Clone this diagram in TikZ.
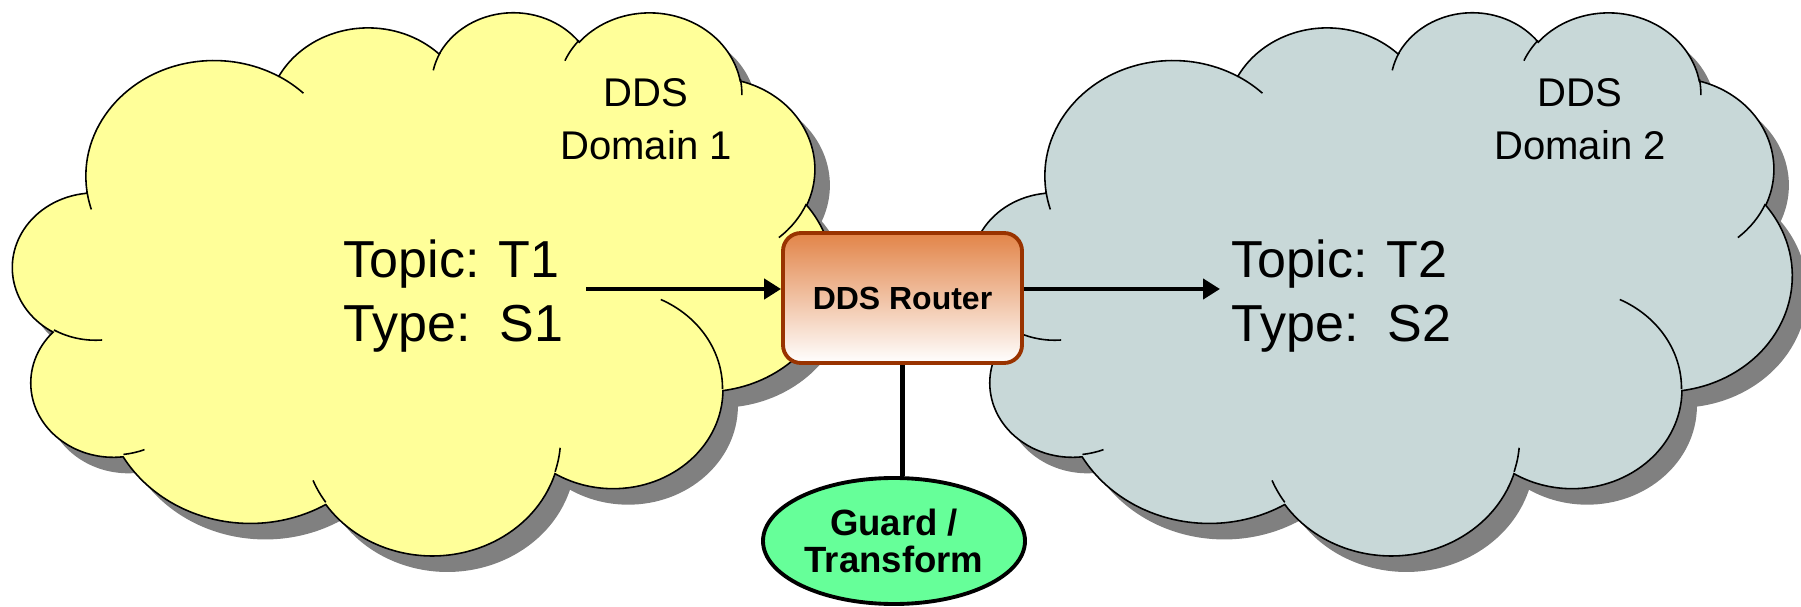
\documentclass[tikz,border=0pt]{standalone}
\usepackage{fontspec}
\setmainfont{Liberation Sans}
\usepackage{tikz}
\usetikzlibrary{shapes}
\usetikzlibrary{positioning}
\usetikzlibrary{arrows.meta}
\usepackage{xcolor}

\definecolor{cloudyellow}{RGB}{255,255,153}
\definecolor{cloudgrey}{RGB}{200,216,216}
\definecolor{routerline}{RGB}{153,51,0}
\definecolor{routertop}{RGB}{226,132,72}
\definecolor{guardgreen}{RGB}{102,255,153}

\tikzset{
  cloudline/.style={line width=.45pt},
  cloudshadow/.style={fill=black!50},
  routerbox/.style={draw=routerline,line width=1.1pt,rounded corners=.18cm,top color=routertop,bottom color=white,
    minimum width=2.39cm,minimum height=1.3cm,inner sep=0pt,font=\bfseries\fontsize{9.1}{10}\selectfont},
  guardbox/.style={ellipse,draw,line width=1.1pt,fill=guardgreen,minimum width=2.62cm,minimum height=1.26cm,
    inner sep=0pt,align=center,font=\bfseries\fontsize{10.4}{10.6}\selectfont},
  topiclabel/.style={align=left,inner sep=0pt,anchor=north west,font=\fontsize{14.8}{18.2}\selectfont},
  domainlabel/.style={align=center,inner sep=0pt,anchor=north,font=\fontsize{11.4}{15.1}\selectfont},
  flowarrow/.style={line width=1.35pt,-{Triangle[length=.17cm,width=.2cm]}},
  guardlink/.style={line width=1.2pt}
}

\def\cloudoutline{(3.900,14.370)
  arc[start angle=-187.75,delta angle=128.11,x radius=6.753,y radius=9.190]
  arc[start angle=-152.02,delta angle=106.57,x radius=5.333,y radius=7.267]
  arc[start angle=-153.49,delta angle=116.17,x radius=4.365,y radius=5.945]
  arc[start angle=-139.72,delta angle=129.51,x radius=4.857,y radius=6.595]
  arc[start angle=-74.77,delta angle=97.99,x radius=5.333,y radius=7.273]
  arc[start angle=-37.52,delta angle=119.38,x radius=6.775,y radius=9.220]
  arc[start angle=0.46,delta angle=121.52,x radius=5.785,y radius=7.867]
  arc[start angle=16.84,delta angle=129.39,x radius=6.752,y radius=9.215]
  arc[start angle=58.98,delta angle=91.22,x radius=7.720,y radius=10.543]
  arc[start angle=-276.69,delta angle=139.79,x radius=4.360,y radius=5.918]
  arc[start angle=-239.64,delta angle=143.75,x radius=4.345,y radius=5.945] -- cycle}

\def\cloudcreases{
  (4.693,26.177) arc[start angle=85.55,delta angle=34.81,x radius=4.345,y radius=5.945]
  (6.928,34.899) arc[start angle=68.24,delta angle=15.07,x radius=4.360,y radius=5.918]
  (16.478,39.090) arc[start angle=146.23,delta angle=12.24,x radius=6.752,y radius=9.215]
  (28.827,34.751) arc[start angle=4.74,delta angle=12.10,x radius=6.752,y radius=9.215]
  (34.129,22.954) arc[start angle=-64.03,delta angle=64.49,x radius=5.785,y radius=7.867]
  (41.798,15.354) arc[start angle=23.22,delta angle=26.42,x radius=5.333,y radius=7.273]
  (38.324,5.426) arc[start angle=-10.21,delta angle=11.04,x radius=4.857,y radius=6.595]
  (29.078,3.952) arc[start angle=-156.29,delta angle=16.57,x radius=4.857,y radius=6.595]
  (22.141,4.720) arc[start angle=-167.72,delta angle=14.23,x radius=4.365,y radius=5.945]
  (14.000,5.192) arc[start angle=-59.64,delta angle=13.91,x radius=6.753,y radius=9.190]
  (4.127,15.789) arc[start angle=163.19,delta angle=9.06,x radius=6.753,y radius=9.190]}

\newcommand{\ddscloud}[2]{%
  \begin{scope}[shift={(#1+.15,5.79)},xscale=.18981,yscale=-.12569]
    \fill[cloudshadow] \cloudoutline;
  \end{scope}
  \begin{scope}[shift={(#1,5.95)},xscale=.18981,yscale=-.12569]
    \filldraw[cloudline,fill=#2] \cloudoutline;
    \draw[cloudline] \cloudcreases;
  \end{scope}}

\begin{document}
\begin{tikzpicture}
\useasboundingbox (0,0) rectangle (18.01,6.06);
\ddscloud{.13}{cloudyellow}
\ddscloud{9.72}{cloudgrey}

\node[domainlabel] (dom1) at (6.46,5.285) {DDS\\Domain 1};
\node[domainlabel] (dom2) at (15.80,5.285) {DDS\\Domain 2};
\node[topiclabel] (t1) at (3.43,3.67) {Topic: T1\\Type:\ \ S1};
\node[topiclabel] (t2) at (12.31,3.67) {Topic: T2\\Type:\ \ S2};

\node[routerbox] (router) at (9.025,3.08) {DDS Router};
\node[guardbox] (guard) at (8.94,.65) {Guard /\\Transform};

\coordinate (a1) at (5.86,3.17);
\coordinate (a2) at (12.20,3.17);
\draw[flowarrow] (a1) -- (a1 -| router.west);
\draw[flowarrow] (router.east |- a2) -- (a2);
\draw[guardlink] (router.south) -- (router.south |- guard.north);
\end{tikzpicture}
\end{document}
